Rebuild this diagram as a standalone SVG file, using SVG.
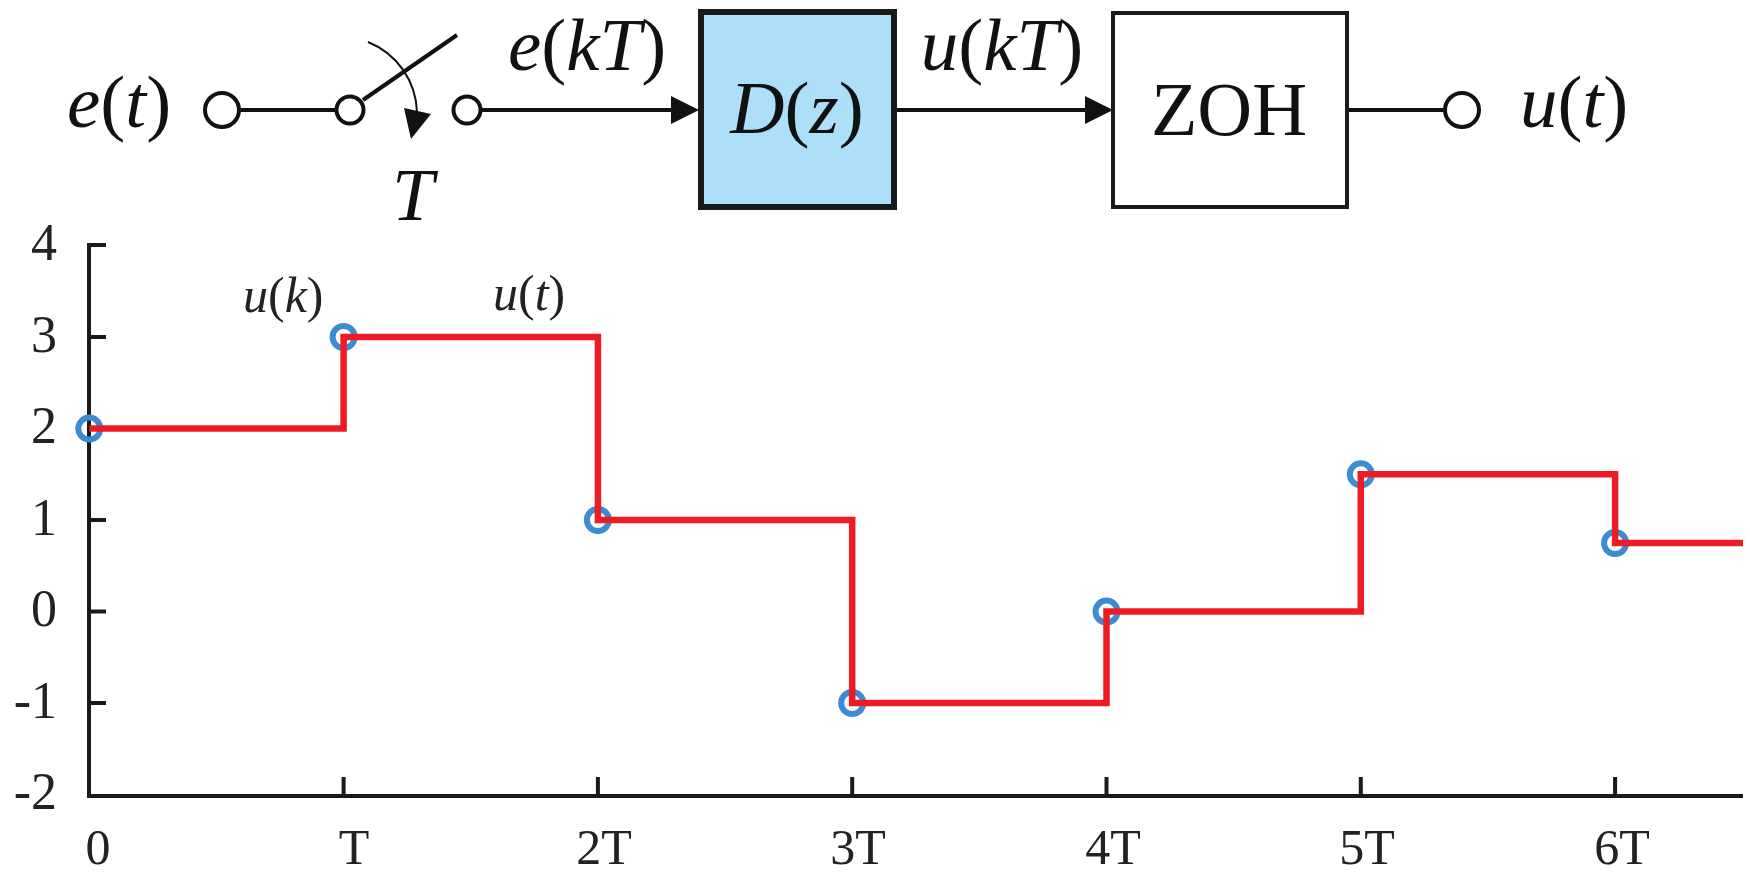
<svg xmlns="http://www.w3.org/2000/svg" width="1750" height="876" viewBox="0 0 1750 876">
<style>
.ln{stroke:#111;stroke-width:4;fill:none}
.term{stroke:#111;stroke-width:4;fill:#fff}
.ah{fill:#111}
.math{font-family:"Liberation Serif","Times New Roman",serif;font-style:italic;font-size:75px;fill:#111}
.up{font-style:normal}
.box{font-family:"Liberation Serif","Times New Roman",serif;font-size:76px;fill:#111}
.plotlab{font-family:"Liberation Serif","Times New Roman",serif;font-style:italic;font-size:50px;fill:#222}
.tick{font-family:"Liberation Serif","Times New Roman",serif;font-size:52px;fill:#222}
.xtick{font-family:"Liberation Serif","Times New Roman",serif;font-size:50px;fill:#222}
.axis{stroke:#1a1a1a;stroke-width:4;fill:none}
.samp{fill:none;stroke:#3d8bd0;stroke-width:6}
.zoh{fill:none;stroke:#ed1c24;stroke-width:6.5;stroke-linejoin:miter}
</style>
<rect width="1750" height="876" fill="#fff"/>

<g id="connectors">
  <line class="ln" x1="239" y1="110" x2="337" y2="110"/>
  <line class="ln" x1="363" y1="100" x2="457" y2="35"/>
  <path d="M368,42 A78,78 0 0,1 417,112" stroke="#111" stroke-width="2" fill="none"/>
  <polygon class="ah" points="404,108 431,114 411,139"/>
  <line class="ln" x1="480" y1="110" x2="674" y2="110"/>
  <polygon class="ah" points="671,96 699,110 671,124"/>
  <line class="ln" x1="897" y1="110" x2="1088" y2="110"/>
  <polygon class="ah" points="1085,96 1113,110 1085,124"/>
  <line class="ln" x1="1348" y1="110" x2="1445" y2="110"/>
</g>

<g id="input">
  <text class="math" x="67" y="127">e<tspan class="up">(</tspan>t<tspan class="up">)</tspan></text>
  <circle class="term" cx="222" cy="110" r="17"/>
</g>

<g id="sampler">
  <circle class="term" cx="350" cy="110" r="13.5"/>
  <circle class="term" cx="467" cy="110" r="13.5"/>
  <text class="math" x="392" y="220">T</text>
  <text class="math" x="508" y="70">e<tspan class="up">(</tspan>kT<tspan class="up">)</tspan></text>
</g>

<g id="controller">
  <rect x="701" y="12" width="193" height="195" fill="#ade0f8" stroke="#1a1a1a" stroke-width="6"/>
  <text class="math" x="797" y="133" text-anchor="middle">D<tspan class="up">(</tspan>z<tspan class="up">)</tspan></text>
  <text class="math" x="1002" y="70" text-anchor="middle">u<tspan class="up">(</tspan>kT<tspan class="up">)</tspan></text>
</g>

<g id="zoh">
  <rect x="1113" y="13" width="234" height="194" fill="#fff" stroke="#1a1a1a" stroke-width="4"/>
  <text class="box" x="1229" y="135" text-anchor="middle">ZOH</text>
</g>

<g id="output">
  <circle class="term" cx="1462" cy="110" r="17"/>
  <text class="math" x="1520" y="127">u<tspan class="up">(</tspan>t<tspan class="up">)</tspan></text>
</g>

<g id="plot">
  <path class="axis" d="M106,245 H89 V796 H1743"/>
  <path class="axis" d="M89,337 H106 M89,428.6 H106 M89,520 H106 M89,611.6 H106 M89,703 H106"/>
  <path class="axis" d="M343.6,796 V777 M597.9,796 V777 M852.2,796 V777 M1106.5,796 V777 M1360.8,796 V777 M1615.1,796 V777"/>
  <g class="tick" text-anchor="end">
    <text x="57" y="260">4</text>
    <text x="57" y="352">3</text>
    <text x="57" y="443">2</text>
    <text x="57" y="535">1</text>
    <text x="57" y="626">0</text>
    <text x="57" y="718">-1</text>
    <text x="57" y="809">-2</text>
  </g>
  <g class="xtick" text-anchor="middle">
    <text x="98" y="864">0</text>
    <text x="354" y="864">T</text>
    <text x="604" y="864">2T</text>
    <text x="858" y="864">3T</text>
    <text x="1113" y="864">4T</text>
    <text x="1367" y="864">5T</text>
    <text x="1622" y="864">6T</text>
  </g>
  <g id="samples">
    <circle class="samp" cx="89.3" cy="428.6" r="11"/>
    <circle class="samp" cx="343.6" cy="337" r="11"/>
    <circle class="samp" cx="597.9" cy="520" r="11"/>
    <circle class="samp" cx="852.2" cy="703" r="11"/>
    <circle class="samp" cx="1106.5" cy="611.6" r="11"/>
    <circle class="samp" cx="1360.8" cy="474.3" r="11"/>
    <circle class="samp" cx="1615.1" cy="543" r="11"/>
  </g>
  <path class="zoh" d="M89.3,428.6 H343.6 V337 H597.9 V520 H852.2 V703 H1106.5 V611.6 H1360.8 V474.3 H1615.1 V543 H1743"/>
  <text class="plotlab" x="243" y="312">u<tspan class="up">(</tspan>k<tspan class="up">)</tspan></text>
  <text class="plotlab" x="493" y="310">u<tspan class="up">(</tspan>t<tspan class="up">)</tspan></text>
</g>
</svg>
